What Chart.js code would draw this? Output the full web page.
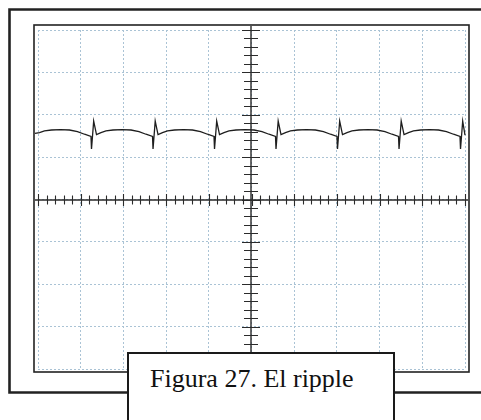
<!DOCTYPE html>
<html lang="es">
<head>
    <meta charset="UTF-8">
    <title>Figura 27. El ripple</title>
    <style>
        body {
            margin: 0;
            padding: 0;
            background-color: #fff;
        }
        #wrap {
            position: relative;
            width: 481px;
            height: 420px;
            overflow: hidden;
        }
        #caption {
            position: absolute;
            left: 127px;
            top: 352px;
            width: 268px;
            height: 90px;
            box-sizing: border-box;
            border: 2px solid #1a1a1a;
            background: #fff;
            font-family: "Liberation Serif", "DejaVu Serif", "Times New Roman", serif;
            font-size: 26px;
            line-height: 1;
            padding: 12px 0 0 21px;
            color: #111;
            white-space: nowrap;
        }
    </style>
</head>
<body>
    <div id="wrap">
        <canvas id="scope" width="481" height="420"></canvas>
        <div id="caption">Figura 27. El ripple</div>
    </div>

    <script src="https://cdn.jsdelivr.net/npm/chart.js"></script>
    <script>
        // screen divisions (10 x 8)
        var xDivs = [-5, 5];
        var yDivs = [-4, 4];

        // trace (divisions)
        var time = [
            -5.07, -4.965, -4.848, -4.684, -4.473, -4.262, -4.075, -3.911,
            -3.759, -3.747, -3.696, -3.630, -3.525, -3.408, -3.244, -3.033, -2.822, -2.635, -2.471,
            -2.318, -2.306, -2.255, -2.189, -2.084, -1.967, -1.803, -1.592, -1.381, -1.194, -1.030,
            -0.878, -0.866, -0.815, -0.749, -0.644, -0.527, -0.363, -0.152, 0.059, 0.246, 0.410,
            0.562, 0.574, 0.625, 0.691, 0.796, 0.913, 1.077, 1.288, 1.499, 1.686, 1.850,
            2.002, 2.014, 2.065, 2.131, 2.236, 2.353, 2.517, 2.728, 2.939, 3.126, 3.290,
            3.443, 3.455, 3.506, 3.572, 3.677, 3.794, 3.958, 4.169, 4.380, 4.567, 4.731,
            4.883, 4.895, 4.946, 5.00
        ];
        var volts = [
            1.56, 1.58, 1.62, 1.64, 1.65, 1.64, 1.60, 1.54,
            1.49, 1.19, 1.85, 1.53, 1.58, 1.62, 1.64, 1.65, 1.64, 1.60, 1.54,
            1.49, 1.19, 1.85, 1.53, 1.58, 1.62, 1.64, 1.65, 1.64, 1.60, 1.54,
            1.49, 1.19, 1.85, 1.53, 1.58, 1.62, 1.64, 1.65, 1.64, 1.60, 1.54,
            1.49, 1.19, 1.85, 1.53, 1.58, 1.62, 1.64, 1.65, 1.64, 1.60, 1.54,
            1.49, 1.19, 1.85, 1.53, 1.58, 1.62, 1.64, 1.65, 1.64, 1.60, 1.54,
            1.49, 1.19, 1.85, 1.53, 1.58, 1.62, 1.64, 1.65, 1.64, 1.60, 1.54,
            1.49, 1.19, 1.85, 1.52
        ];

        var points = time.map(function(t, i) { return { x: t, y: volts[i] }; });

        // center cross with 1/5 division ticks, drawn under the trace
        var crossPlugin = {
            id: 'cross',
            beforeDatasetsDraw: function(chart) {
                var ctx = chart.ctx;
                var sx = chart.scales.x, sy = chart.scales.y;
                var area = chart.chartArea;
                var cx = Math.round(sx.getPixelForValue(0)) - 1;
                var cy = Math.round(sy.getPixelForValue(0));
                ctx.save();
                ctx.strokeStyle = '#2b2b2b';
                ctx.lineWidth = 1.4;
                ctx.beginPath();
                ctx.moveTo(cx, area.top - 4);
                ctx.lineTo(cx, area.bottom + 3);
                ctx.moveTo(area.left - 3, cy);
                ctx.lineTo(area.right + 3, cy);
                ctx.stroke();
                ctx.lineWidth = 1.1;
                ctx.beginPath();
                for (var k = xDivs[0] * 5; k <= xDivs[1] * 5; k++) {
                    var px = Math.round(sx.getPixelForValue(k / 5)) + 0.5;
                    var h = (k % 5 === 0) ? 6 : 4.5;
                    ctx.moveTo(px, cy - h);
                    ctx.lineTo(px, cy + h);
                }
                for (var j = yDivs[0] * 5; j <= yDivs[1] * 5; j++) {
                    var py = Math.round(sy.getPixelForValue(j / 5)) + 0.5;
                    var w = (j % 5 === 0) ? 9 : 7;
                    ctx.moveTo(cx - w, py);
                    ctx.lineTo(cx + w, py);
                }
                ctx.stroke();
                ctx.restore();
            },
            afterDraw: function(chart) {
                var ctx = chart.ctx;
                ctx.save();
                // inner screen frame
                ctx.strokeStyle = '#222';
                ctx.lineWidth = 1.6;
                ctx.strokeRect(34, 25, 435, 347);
                // outer figure frame
                ctx.lineWidth = 2.6;
                ctx.beginPath();
                ctx.moveTo(484, 9.5);
                ctx.lineTo(9.5, 9.5);
                ctx.lineTo(9.5, 392.5);
                ctx.lineTo(484, 392.5);
                ctx.stroke();
                ctx.restore();
            }
        };

        new Chart(document.getElementById('scope'), {
            type: 'line',
            data: {
                datasets: [{
                    data: points,
                    borderColor: '#1e1e1e',
                    borderWidth: 1.3,
                    pointRadius: 0,
                    tension: 0,
                    fill: false,
                    clip: false
                }]
            },
            options: {
                responsive: false,
                animation: false,
                events: [],
                layout: {
                    padding: { left: 38, top: 30, right: 16, bottom: 51 }
                },
                plugins: {
                    legend: { display: false },
                    tooltip: { enabled: false }
                },
                scales: {
                    x: {
                        type: 'linear',
                        min: xDivs[0],
                        max: xDivs[1],
                        ticks: { display: false, stepSize: 1 },
                        grid: { color: '#aac3d5', lineWidth: 1, drawTicks: false },
                        border: { display: false, dash: [2, 2] },
                        afterFit: function(s) { s.height = 0; }
                    },
                    y: {
                        type: 'linear',
                        min: yDivs[0],
                        max: yDivs[1],
                        ticks: { display: false, stepSize: 1 },
                        grid: { color: '#aac3d5', lineWidth: 1, drawTicks: false },
                        border: { display: false, dash: [2, 2] },
                        afterFit: function(s) { s.width = 0; }
                    }
                }
            },
            plugins: [crossPlugin]
        });
    </script>
</body>
</html>
